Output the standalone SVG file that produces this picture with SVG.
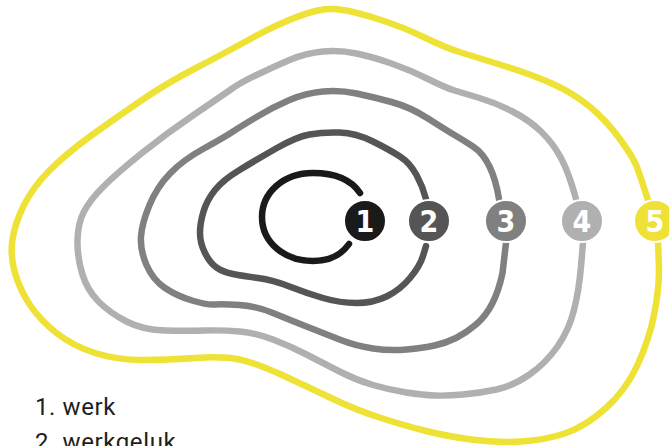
<svg xmlns="http://www.w3.org/2000/svg" width="669" height="446" viewBox="0 0 669 446">
<style>
.ring{fill:none;stroke-width:6.5;stroke-linecap:round;stroke-linejoin:round}
.badge{stroke:#ffffff;stroke-width:2}
.num{font-family:"DejaVu Sans Condensed","DejaVu Sans",sans-serif;font-weight:bold;font-size:30px;fill:#ffffff;text-anchor:middle}
.label{font-family:Roboto,"Liberation Sans",sans-serif;font-size:24px;fill:#1e1e1e;letter-spacing:0.6px}
</style>
<rect width="669" height="446" fill="#ffffff"/>
<g id="connectors">
<path id="ring5" class="ring" stroke="#efe236" d="M648,200 Q640,175 636.5,166 Q633,157 619.5,138.5 Q606,120 589.5,106.5 Q573,93 553,84 Q533,75 506,66.5 Q479,58 462.5,53 Q446,48 424.5,37.5 Q403,27 379.5,19.5 Q356,12 343,10 Q330,8 318,10.5 Q306,13 288,20.5 Q270,28 246.5,41 Q223,54 195,68.5 Q167,83 142,100 Q117,117 92,135 Q67,153 50,170 Q33,187 24,205 Q15,223 12.5,239.5 Q10,256 15,273 Q20,290 30,305 Q40,320 56.5,333 Q73,346 95,353 Q117,360 142,360 Q167,360 195,358 Q223,356 239.5,359.5 Q256,363 281,374.5 Q306,386 331,398 Q356,410 381,418 Q406,426 426,431 Q446,436 471,439.5 Q496,443 521,441.5 Q546,440 566,433 Q586,426 606,408 Q626,390 637.5,365 Q649,340 654,315 Q659,290 659,270 L658,240"/>
<path id="ring4" class="ring" stroke="#b0b0b0" d="M576,199 Q569,173 561,158 Q553,143 541,131.5 Q529,120 512.5,111.5 Q496,103 479.5,98 Q463,93 454.5,90.5 Q446,88 428,79 Q410,70 391.5,63.5 Q373,57 356.5,53.5 Q340,50 323,51.5 Q306,53 289.5,60 Q273,67 256.5,75 Q240,83 231.5,89 Q223,95 195,114 Q167,133 142,153 Q117,173 103.5,186.5 Q90,200 84,211.5 Q78,223 77.5,239.5 Q77,256 82,273 Q87,290 98.5,301.5 Q110,313 126.5,321.5 Q143,330 165,330.5 Q187,331 205,330.5 Q223,330 239.5,331.5 Q256,333 273,339.5 Q290,346 306.5,354.5 Q323,363 339.5,371.5 Q356,380 373,385 Q390,390 406.5,392.5 Q423,395 434.5,395.5 Q446,396 463,394.5 Q480,393 496.5,389.5 Q513,386 529.5,374.5 Q546,363 557.5,346.5 Q569,330 574,310 Q579,290 581,266.5 L583,243"/>
<path id="ring3" class="ring" stroke="#808080" d="M499,199 Q496,180 489.5,166.5 Q483,153 473,146.5 Q463,140 454.5,135 Q446,130 428,118.5 Q410,107 391.5,102 Q373,97 356.5,93.5 Q340,90 323,91.5 Q306,93 289.5,100 Q273,107 256.5,117 Q240,127 231.5,132.5 Q223,138 203,149 Q183,160 170,173.5 Q157,187 149.5,205 Q142,223 141,236.5 Q140,250 146.5,265 Q153,280 165,288 Q177,296 192,300.5 Q207,305 215,304.5 Q223,304 239.5,305 Q256,306 273,313 Q290,320 306.5,326.5 Q323,333 339.5,339.5 Q356,346 373,348.5 Q390,351 406.5,349.5 Q423,348 434.5,345.5 Q446,343 456,338 Q466,333 476,324.5 Q486,316 492.5,303 Q499,290 502.5,273 L506,243"/>
<path id="ring2" class="ring" stroke="#555555" d="M426,199 Q423,187 416.5,175 Q410,163 400,156.5 Q390,150 373,141.5 Q356,133 339.5,132.5 Q323,132 309.5,134.5 Q296,137 276,148.5 Q256,160 239.5,170 Q223,180 215,190 Q207,200 203.5,211.5 Q200,223 200,233 Q200,243 205,253 Q210,263 216.5,267.5 Q223,272 233,274 Q243,276 258,278 Q273,280 289.5,286.5 Q306,293 323,298 Q340,303 356.5,303 Q373,303 386.5,296.5 Q400,290 410,278 Q420,266 423,256 L426,246"/>
<path id="ring1" class="ring" stroke="#1a1a1a" stroke-width="6" d="M360,193 C350,178 333,173 313,173 C283,173 262,193 262,217 C262,243 285,261 313,261 C330,261 342,254 349,244"/>
</g>
<g id="node1"><circle class="badge" cx="365" cy="221" r="21" fill="#1a1a1a"/><text class="num" x="365" y="232">1</text></g>
<g id="node2"><circle class="badge" cx="429" cy="221" r="21" fill="#555555"/><text class="num" x="429" y="232">2</text></g>
<g id="node3"><circle class="badge" cx="506" cy="221" r="21" fill="#808080"/><text class="num" x="506" y="232">3</text></g>
<g id="node4"><circle class="badge" cx="582" cy="221" r="21" fill="#b0b0b0"/><text class="num" x="582" y="232">4</text></g>
<g id="node5"><circle class="badge" cx="655" cy="221" r="21" fill="#efe236"/><text class="num" x="655" y="232">5</text></g>
<g id="legend">
<text class="label" x="35" y="415">1. werk</text>
<text class="label" x="35" y="450">2. werkgeluk</text>
</g>
</svg>
